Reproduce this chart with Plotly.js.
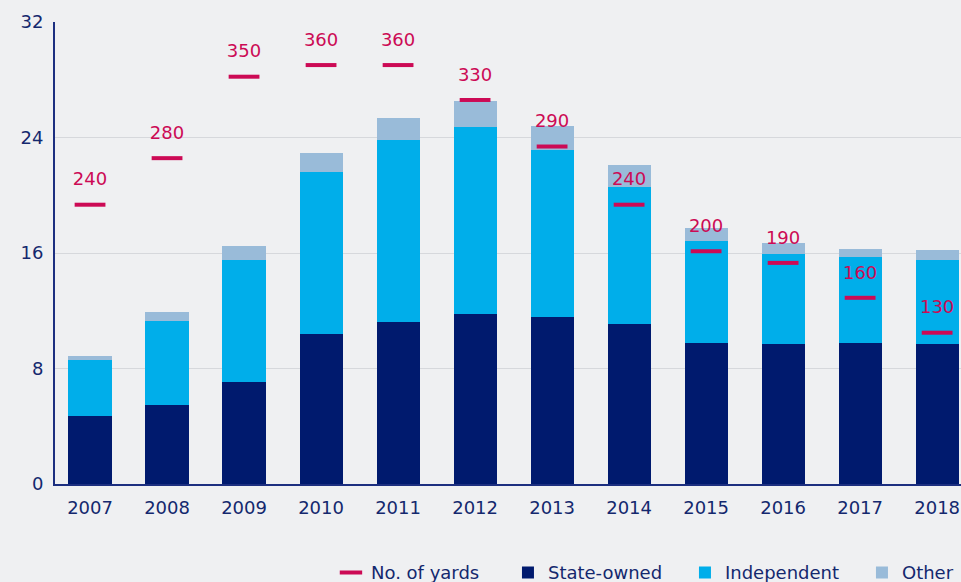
<!DOCTYPE html>
<html>
<head>
<meta charset="utf-8">
<script src="https://cdn.plot.ly/plotly-3.0.1.min.js"></script>
<style>
html,body{margin:0;padding:0;background:#eff0f2;overflow:hidden;}
#chart{width:961px;height:582px;}
</style>
</head>
<body>
<div id="chart"></div>
<script>
var years = ['2007','2008','2009','2010','2011','2012','2013','2014','2015','2016','2017','2018'];
var stateOwned  = [4.7, 5.5, 7.05, 10.4, 11.2, 11.75, 11.6, 11.05, 9.8, 9.7, 9.8, 9.7];
var independent = [3.9, 5.8, 8.45, 11.2, 12.65, 12.95, 11.5, 9.55, 7.05, 6.2, 5.95, 5.8];
var other       = [0.27, 0.62, 0.97, 1.3, 1.52, 1.8, 1.73, 1.52, 0.9, 0.76, 0.55, 0.69];
var yards       = [240, 280, 350, 360, 360, 330, 290, 240, 200, 190, 160, 130];

var navy = '#001a6e', cyan = '#00aeea', light = '#99bbd9', red = '#cc0a55', txt = '#14286e';
var font = 'DejaVu Sans, Verdana, sans-serif';

var traces = [
  {type:'bar', name:'State-owned', x:years, y:stateOwned, marker:{color:navy}, hoverinfo:'y'},
  {type:'bar', name:'Independent', x:years, y:independent, marker:{color:cyan}, hoverinfo:'y'},
  {type:'bar', name:'Other', x:years, y:other, marker:{color:light}, hoverinfo:'y'},
  {type:'scatter', mode:'markers+text', name:'No. of yards', x:years, y:yards, yaxis:'y2',
   text:yards.map(String), textposition:'top center',
   textfont:{family:font, size:18, color:red},
   marker:{symbol:'line-ew', size:22, line:{width:4, color:red}, color:red},
   cliponaxis:false}
];

var layout = {
  width:961, height:582,
  paper_bgcolor:'#eff0f2', plot_bgcolor:'#eff0f2',
  font:{family:font, size:18, color:txt},
  barmode:'stack', bargap:0.44,
  margin:{l:55, r:0, t:22, b:98, autoexpand:false},
  xaxis:{type:'category', range:[-0.455, 11.31], showgrid:false,
         showline:true, linecolor:'#1c2f80', linewidth:2, ticks:'',
         tickfont:{family:font, size:18, color:txt}, ticklabelstandoff:6, fixedrange:true},
  yaxis:{range:[0,32], tickvals:[0,8,16,24,32], showgrid:true, gridcolor:'#d6d8dc', gridwidth:1,
         showline:true, linecolor:'#1c2f80', linewidth:2, ticks:'', zeroline:false,
         tickfont:{family:font, size:18, color:txt}, ticklabelstandoff:6},
  yaxis2:{range:[0,397], overlaying:'y', side:'right', visible:false, showgrid:false},
  showlegend:true,
  legend:{orientation:'h', x:0.3046, xanchor:'left', y:-0.152, yanchor:'top',
          entrywidth:132, entrywidthmode:'pixels',
          font:{family:font, size:18, color:txt}, bgcolor:'rgba(0,0,0,0)',
          traceorder:'normal'}
};

var ordered = [traces[3], traces[0], traces[1], traces[2]];
Plotly.newPlot('chart', ordered, layout, {displayModeBar:false, staticPlot:true});
</script>
</body>
</html>
